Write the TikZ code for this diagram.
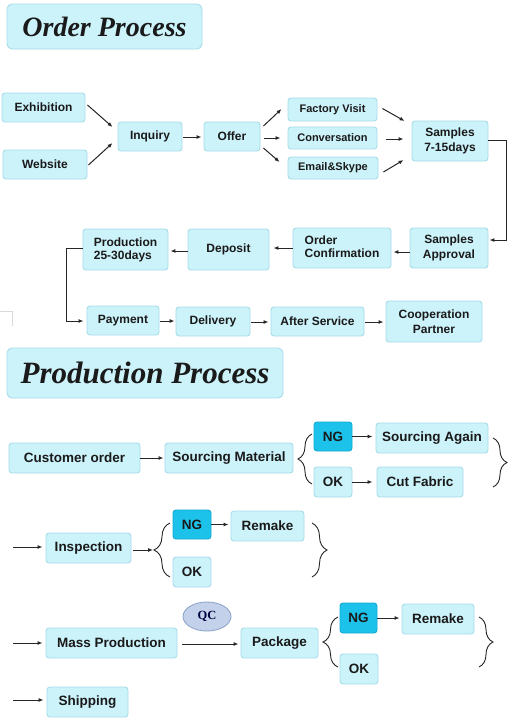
\documentclass[tikz,border=0pt]{standalone}
\usepackage{fontspec}
\setmainfont{Liberation Sans}
\newfontfamily\titlefont{Liberation Serif}
\usetikzlibrary{arrows.meta,calc,decorations.pathreplacing,shapes.geometric}
\definecolor{boxfill}{HTML}{CCF2FA}
\definecolor{boxline}{HTML}{A6DDEA}
\definecolor{ngfill}{HTML}{1DC2EB}
\definecolor{ngline}{HTML}{12A9D2}
\definecolor{qcfill}{HTML}{C3D2EA}
\definecolor{qcline}{HTML}{8FA5CA}
\definecolor{ink}{HTML}{1A1A1A}
\definecolor{wire}{HTML}{262626}
\begin{document}
\begin{tikzpicture}[x=1pt,y=-1pt,
  box/.style={draw=boxline,fill=boxfill,line width=0.9pt,rounded corners=3pt,inner sep=0pt,
    align=center,text=ink,font=\bfseries\fontsize{12}{15}\selectfont},
  sbox/.style={box,font=\bfseries\fontsize{11}{13}\selectfont},
  pbox/.style={box,font=\bfseries\fontsize{13.5}{16}\selectfont},
  ngbox/.style={pbox,draw=ngline,fill=ngfill},
  titlebox/.style={box,rounded corners=5pt},
  qcnode/.style={ellipse,draw=qcline,fill=qcfill,line width=0.9pt,inner sep=0pt,
    text=black!75!blue,font=\titlefont\bfseries\fontsize{12.5}{14}\selectfont},
  arr/.style={draw=wire,line width=1pt,-{Latex[length=5pt,width=4pt]}},
  ln/.style={draw=wire,line width=1pt},
  lbrace/.style={draw=wire,line width=0.9pt,decorate,decoration={brace,amplitude=#1}},
]
\useasboundingbox[fill=white] (0,0) rectangle (512,721);

% ---------------- Order Process ----------------
\node[titlebox,minimum width=195,minimum height=45] (t1) at (104.5,26.5)
  {\titlefont\bfseries\itshape\fontsize{28}{30}\selectfont Order Process};

\node[box,minimum width=83,minimum height=29] (ex) at (43.5,107.5) {Exhibition};
\node[box,minimum width=84,minimum height=29] (web) at (45,164.5) {Website};
\node[box,minimum width=64,minimum height=29] (inq) at (150,136.5) {Inquiry};
\node[box,minimum width=56,minimum height=29] (off) at (232,136.5) {Offer};
\node[sbox,minimum width=89,minimum height=23] (fv) at (332.5,109.5) {Factory Visit};
\node[sbox,minimum width=89,minimum height=22] (cv) at (332.5,138) {Conversation};
\node[sbox,minimum width=90,minimum height=22] (em) at (333,168) {Email\&Skype};
\node[box,minimum width=76,minimum height=40] (s7) at (450,141) {Samples\\7-15days};
\node[box,minimum width=78,minimum height=40] (sa) at (449,248) {Samples\\Approval};
\node[box,minimum width=98,minimum height=40] (oc) at (342,248) {\begin{tabular}{@{}l@{}}Order\\[-2pt]Confirmation\end{tabular}};
\node[box,minimum width=81,minimum height=41] (dep) at (228.5,249.5) {Deposit};
\node[box,minimum width=85,minimum height=41] (prod) at (125.5,249.5) {\begin{tabular}{@{}l@{}}Production\\[-2pt]25-30days\end{tabular}};
\node[box,minimum width=72,minimum height=29] (pay) at (123,320.5) {Payment};
\node[box,minimum width=74,minimum height=29] (del) at (213,321.5) {Delivery};
\node[box,minimum width=93,minimum height=29] (as) at (317.5,321.5) {After Service};
\node[box,minimum width=96,minimum height=41] (coop) at (434,321.5) {Cooperation\\Partner};

\draw[arr] ($(ex.east)+(2,-2.5)$) -- ($(inq.west)+(-5,-9.5)$);
\draw[arr] ($(web.east)+(1,0.5)$) -- ($(inq.west)+(-5,6.5)$);
\draw[arr] ($(inq.east)+(1,0.5)$) -- ($(off.west)+(-2,0.5)$);
\draw[arr] ($(off.east)+(3,-10.5)$) -- ($(fv.west)+(-6,-0.5)$);
\draw[arr] ($(off.east)+(4,1.5)$) -- ($(cv.west)+(-7,0)$);
\draw[arr] ($(off.east)+(3,11.5)$) -- ($(em.west)+(-8,-6)$);
\draw[arr] ($(fv.east)+(5,-1)$) -- ($(s7.west)+(-7,-20)$);
\draw[arr] ($(cv.east)+(9,1)$) -- ($(s7.west)+(-8,-2)$);
\draw[arr] ($(em.east)+(5,4)$) -- ($(s7.west)+(-8,19)$);
\draw[arr] ($(s7.east)+(0,-1)$) -- ++(18,0) |- ($(sa.east)+(1,-8)$);
\draw[arr] ($(sa.west)+(0,4)$) -- ($(oc.east)+(2,4)$);
\draw[arr] (oc.west) -- ($(dep.east)+(4,-1.5)$);
\draw[arr] ($(dep.west)+(0,1.5)$) -- ($(prod.east)+(2,1.5)$);
\draw[arr] ($(prod.west)+(0,-1.5)$) -- ++(-16,0) |- ($(pay.west)+(-3,0.5)$);
\draw[arr] ($(pay.east)+(1,0.5)$) -- ($(del.west)+(-1,-0.5)$);
\draw[arr] ($(del.east)+(1,0.5)$) -- ($(as.west)+(-2,0.5)$);
\draw[arr] ($(as.east)+(1,0.5)$) -- ($(coop.west)+(-2,0.5)$);

% stray corner mark
\draw[black!15,line width=0.8pt] (0,311) -- (12,311) -- (12,326);

% ---------------- Production Process ----------------
\node[titlebox,minimum width=276,minimum height=50] (t2) at (145,373)
  {\titlefont\bfseries\itshape\fontsize{31}{33}\selectfont Production Process};

\node[pbox,minimum width=131,minimum height=30] (co) at (74.5,458) {Customer order};
\node[pbox,minimum width=128,minimum height=30] (sm) at (229,458) {Sourcing Material};
\node[ngbox,minimum width=38,minimum height=29] (ng1) at (333,436.5) {NG};
\node[pbox,minimum width=112,minimum height=30] (sag) at (432,438) {Sourcing Again};
\node[pbox,minimum width=38,minimum height=30] (ok1) at (333,482) {OK};
\node[pbox,minimum width=86,minimum height=30] (cf) at (420,482) {Cut Fabric};

\node[pbox,minimum width=85,minimum height=30] (insp) at (88.5,548) {Inspection};
\node[ngbox,minimum width=38,minimum height=29] (ng2) at (192,524.5) {NG};
\node[pbox,minimum width=73,minimum height=30] (rm1) at (267.5,526) {Remake};
\node[pbox,minimum width=38,minimum height=30] (ok2) at (192,572) {OK};

\node[pbox,minimum width=131,minimum height=30] (mp) at (111.5,643) {Mass Production};
\node[qcnode,minimum width=48,minimum height=29] (qc) at (207,616.5) {QC};
\node[pbox,minimum width=77,minimum height=30] (pk) at (279.5,643) {Package};
\node[ngbox,minimum width=37,minimum height=30] (ng3) at (358.5,618) {NG};
\node[pbox,minimum width=72,minimum height=30] (rm2) at (438,619) {Remake};
\node[pbox,minimum width=38,minimum height=30] (ok3) at (359,669) {OK};

\node[pbox,minimum width=81,minimum height=30] (ship) at (87.5,702) {Shipping};

% braces
\draw[lbrace=14pt] (312,484) -- (312,434);
\draw[lbrace=14pt] (493,438) -- (493,487);
\draw[lbrace=16pt] (170,577) -- (170,523);
\coordinate (b2tip) at (154,550);
\draw[lbrace=15pt] (312,523) -- (312,577);
\draw[lbrace=15pt] (338,667) -- (338,617);
\draw[lbrace=14pt] (479,617) -- (479,667);

\coordinate (in1) at (13,547);
\coordinate (in2) at (13,643);
\coordinate (in3) at (13,700);

\draw[arr] (co.east) -- ($(sm.west)+(-1,0)$);
\draw[arr] (ng1.east) -- ($(ng1.east -| sag.west)+(-3,0)$);
\draw[arr] (ok1.east) -- ($(cf.west)+(-4,0)$);
\draw[arr] (in1) -- ($(in1 -| insp.west)+(-3,0)$);
\draw[arr] ($(insp.east)+(2,2)$) -- ($(b2tip)+(-1,0)$);
\draw[arr] (ng2.east) -- ($(ng2.east -| rm1.west)+(-2,0)$);
\draw[arr] (in2) -- ($(mp.west)+(-3,0)$);
\draw[arr] ($(mp.east)+(5,1)$) -- ($(pk.west)+(-2,1)$);
\draw[arr] (ng3.east) -- ($(ng3.east -| rm2.west)+(-2,0)$);
\draw[arr] (in3) -- ($(in3 -| ship.west)+(-3,0)$);
\end{tikzpicture}
\end{document}
